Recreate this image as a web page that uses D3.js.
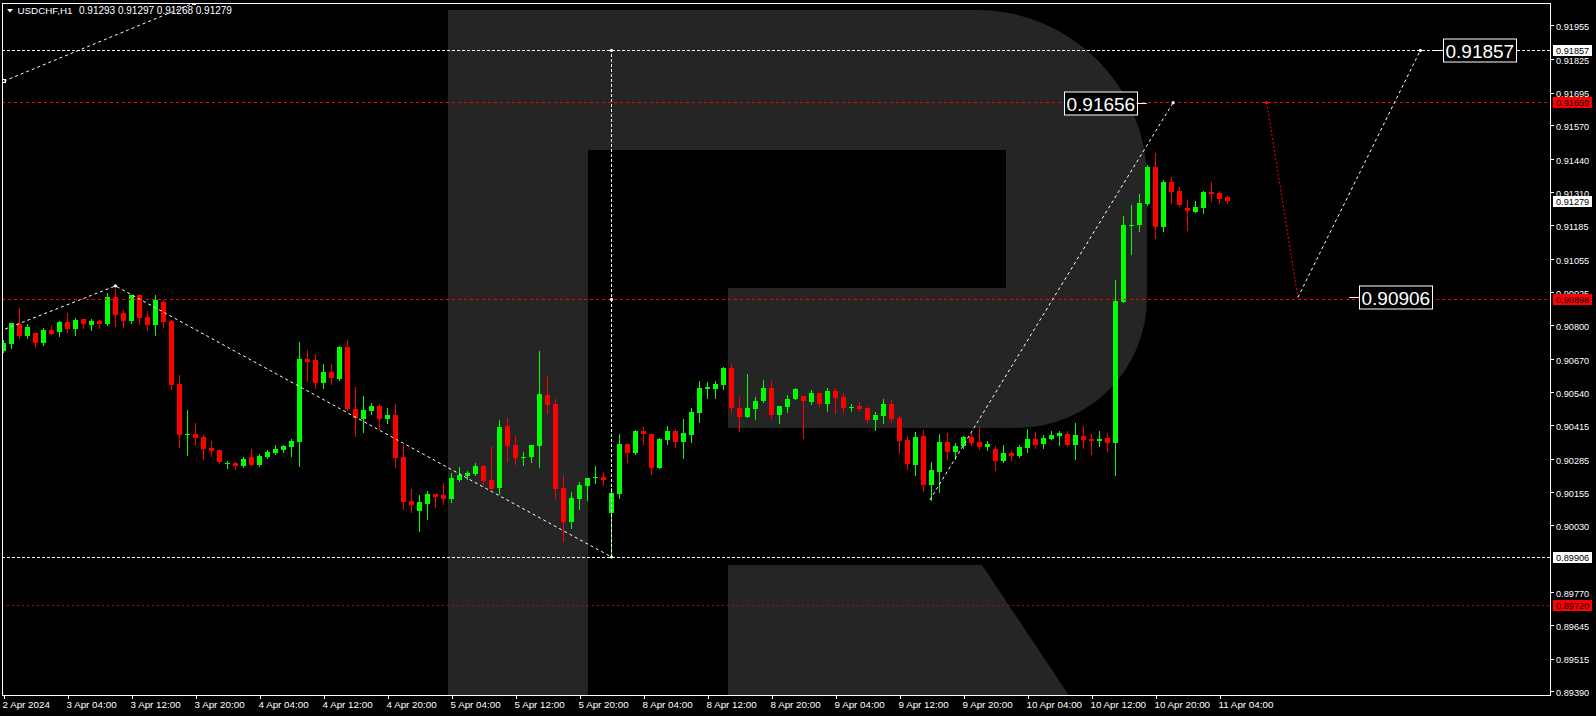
<!DOCTYPE html>
<html><head><meta charset="utf-8">
<script src="https://cdn.jsdelivr.net/npm/d3@7"></script>
<style>html,body{margin:0;padding:0;background:#000;overflow:hidden}</style>
</head><body>
<svg id="chart" width="1596" height="716"></svg>
<script>
// ---------------- data ----------------
const symbol = "USDCHF,H1";
const headerValues = ["0.91293", "0.91297", "0.91268", "0.91279"];

const opens = [0.90700,0.90727,0.90804,0.90757,0.90769,0.90730,0.90781,0.90773,0.90811,0.90784,
0.90823,0.90800,0.90815,0.90804,0.90908,0.90846,0.90815,0.90915,0.90831,0.90800,
0.90888,0.90815,0.90573,0.90378,0.90380,0.90369,0.90326,0.90318,0.90265,0.90268,
0.90257,0.90292,0.90261,0.90292,0.90307,0.90318,0.90330,0.90349,0.90669,0.90665,
0.90577,0.90619,0.90592,0.90715,0.90476,0.90438,0.90469,0.90488,0.90438,0.90453,
0.90292,0.90122,0.90084,0.90111,0.90149,0.90145,0.90130,0.90203,0.90218,0.90226,
0.90257,0.90203,0.90172,0.90411,0.90338,0.90288,0.90292,0.90334,0.90530,0.90496,
0.90172,0.90041,0.90130,0.90180,0.90211,0.90214,0.90076,0.90149,0.90342,0.90307,
0.90392,0.90380,0.90249,0.90357,0.90392,0.90349,0.90376,0.90461,0.90555,0.90553,
0.90569,0.90634,0.90480,0.90446,0.90476,0.90507,0.90557,0.90453,0.90484,0.90515,
0.90527,0.90503,0.90538,0.90496,0.90546,0.90523,0.90480,0.90488,0.90480,0.90434,
0.90449,0.90496,0.90442,0.90357,0.90261,0.90372,0.90184,0.90234,0.90349,0.90311,
0.90334,0.90369,0.90349,0.90330,0.90322,0.90276,0.90307,0.90295,0.90326,0.90361,
0.90342,0.90361,0.90372,0.90380,0.90338,0.90372,0.90361,0.90353,0.90365,0.90345,
0.90888,0.91181,0.91185,0.91266,0.91408,0.91177,0.91350,0.91316,0.91250,0.91235,
0.91250,0.91312,0.91308,0.91293];

const highs = [0.90742,0.90807,0.90865,0.90804,0.90769,0.90788,0.90796,0.90815,0.90846,0.90827,
0.90823,0.90823,0.90819,0.90923,0.90938,0.90858,0.90915,0.90915,0.90854,0.90915,
0.90896,0.90819,0.90607,0.90473,0.90422,0.90376,0.90353,0.90318,0.90276,0.90272,
0.90292,0.90322,0.90303,0.90318,0.90338,0.90338,0.90361,0.90734,0.90704,0.90688,
0.90650,0.90650,0.90719,0.90742,0.90561,0.90527,0.90499,0.90496,0.90480,0.90496,
0.90338,0.90168,0.90145,0.90160,0.90149,0.90191,0.90230,0.90253,0.90238,0.90268,
0.90261,0.90334,0.90434,0.90442,0.90372,0.90311,0.90338,0.90700,0.90603,0.90515,
0.90222,0.90157,0.90195,0.90211,0.90257,0.90234,0.90172,0.90380,0.90342,0.90396,
0.90407,0.90380,0.90365,0.90411,0.90400,0.90438,0.90480,0.90584,0.90580,0.90584,
0.90638,0.90650,0.90523,0.90611,0.90523,0.90588,0.90584,0.90488,0.90530,0.90557,
0.90527,0.90550,0.90538,0.90557,0.90557,0.90538,0.90496,0.90503,0.90484,0.90465,
0.90515,0.90511,0.90449,0.90372,0.90388,0.90396,0.90272,0.90380,0.90384,0.90345,
0.90372,0.90384,0.90407,0.90353,0.90334,0.90338,0.90315,0.90338,0.90400,0.90388,
0.90376,0.90392,0.90392,0.90392,0.90422,0.90411,0.90380,0.90392,0.90384,0.90973,
0.91219,0.91262,0.91304,0.91416,0.91462,0.91358,0.91370,0.91331,0.91281,0.91277,
0.91316,0.91350,0.91316,0.91297];

const lows = [0.90696,0.90711,0.90750,0.90750,0.90715,0.90723,0.90765,0.90757,0.90773,0.90761,
0.90788,0.90781,0.90788,0.90800,0.90796,0.90792,0.90807,0.90804,0.90781,0.90761,
0.90792,0.90553,0.90330,0.90299,0.90338,0.90284,0.90295,0.90268,0.90249,0.90245,
0.90253,0.90261,0.90257,0.90288,0.90303,0.90311,0.90295,0.90257,0.90584,0.90557,
0.90557,0.90573,0.90588,0.90473,0.90372,0.90388,0.90457,0.90400,0.90422,0.90253,
0.90091,0.90080,0.90007,0.90053,0.90099,0.90111,0.90118,0.90199,0.90207,0.90222,
0.90184,0.90168,0.90149,0.90276,0.90265,0.90261,0.90272,0.90253,0.90461,0.90134,
0.89968,0.90018,0.90091,0.90126,0.90191,0.90184,0.89906,0.90134,0.90272,0.90303,
0.90342,0.90226,0.90249,0.90342,0.90330,0.90288,0.90349,0.90426,0.90519,0.90519,
0.90553,0.90465,0.90392,0.90446,0.90438,0.90503,0.90442,0.90422,0.90465,0.90515,
0.90365,0.90496,0.90488,0.90469,0.90461,0.90465,0.90469,0.90473,0.90426,0.90396,
0.90422,0.90426,0.90307,0.90245,0.90222,0.90160,0.90126,0.90157,0.90284,0.90284,
0.90326,0.90338,0.90322,0.90318,0.90241,0.90272,0.90280,0.90292,0.90311,0.90326,
0.90326,0.90361,0.90338,0.90334,0.90284,0.90326,0.90303,0.90334,0.90315,0.90222,
0.90888,0.91073,0.91162,0.91262,0.91135,0.91162,0.91270,0.91258,0.91166,0.91235,
0.91231,0.91277,0.91270,0.91268];

const closes = [0.90730,0.90807,0.90757,0.90792,0.90730,0.90781,0.90765,0.90811,0.90784,0.90819,
0.90804,0.90815,0.90804,0.90908,0.90838,0.90815,0.90915,0.90827,0.90800,0.90896,
0.90811,0.90569,0.90376,0.90380,0.90365,0.90322,0.90315,0.90272,0.90267,0.90257,
0.90284,0.90261,0.90295,0.90311,0.90322,0.90334,0.90353,0.90669,0.90657,0.90577,
0.90619,0.90596,0.90715,0.90476,0.90442,0.90473,0.90488,0.90438,0.90453,0.90288,
0.90118,0.90107,0.90118,0.90149,0.90137,0.90130,0.90211,0.90222,0.90230,0.90257,
0.90199,0.90168,0.90407,0.90334,0.90288,0.90292,0.90338,0.90534,0.90492,0.90168,
0.90041,0.90134,0.90184,0.90211,0.90214,0.90203,0.90153,0.90342,0.90307,0.90392,
0.90380,0.90249,0.90361,0.90392,0.90349,0.90384,0.90465,0.90557,0.90561,0.90573,
0.90634,0.90480,0.90446,0.90480,0.90507,0.90557,0.90453,0.90488,0.90515,0.90553,
0.90507,0.90538,0.90496,0.90546,0.90519,0.90480,0.90484,0.90476,0.90434,0.90453,
0.90496,0.90438,0.90353,0.90265,0.90369,0.90184,0.90241,0.90349,0.90311,0.90334,
0.90369,0.90345,0.90330,0.90342,0.90276,0.90307,0.90295,0.90330,0.90361,0.90338,
0.90365,0.90376,0.90384,0.90338,0.90376,0.90357,0.90353,0.90361,0.90345,0.90892,
0.91185,0.91185,0.91270,0.91408,0.91177,0.91350,0.91312,0.91262,0.91239,0.91254,
0.91312,0.91304,0.91285,0.91279];

const xTickIndex = [0,8,16,24,32,40,48,56,64,72,80,88,96,104,112,120,128,136,144,152];
const xTickLabels = ["2 Apr 2024","3 Apr 04:00","3 Apr 12:00","3 Apr 20:00","4 Apr 04:00","4 Apr 12:00",
"4 Apr 20:00","5 Apr 04:00","5 Apr 12:00","5 Apr 20:00","8 Apr 04:00","8 Apr 12:00","8 Apr 20:00",
"9 Apr 04:00","9 Apr 12:00","9 Apr 20:00","10 Apr 04:00","10 Apr 12:00","10 Apr 20:00","11 Apr 04:00"];

const yTickValues = [0.91955,0.91825,0.91695,0.91570,0.91440,0.91310,0.91185,0.91055,0.90925,0.90800,
0.90670,0.90540,0.90415,0.90285,0.90155,0.90030,0.89770,0.89645,0.89515,0.89390];

// horizontal levels and their kinds
const levelPrices = [0.91857, 0.91659, 0.90898, 0.89906, 0.89720];
const levelKinds  = ["target", "level", "level", "target", "stop"];
// price tags on the right scale
const tagPrices = [0.91857, 0.91659, 0.91279, 0.90898, 0.89906, 0.89720];
const tagKinds  = ["target", "level", "bid", "level", "target", "stop"];

// drawn objects, in (bar index, price)
const trendTop     = [[0.06, 0.91739], [23.8, 0.92040]];
const waveDown     = [[0.2, 0.90784], [14.0, 0.90950], [76, 0.89906]];
const waveVertical = [[76, 0.89906], [76, 0.91857]];
const waveUp       = [[115.8, 0.90126], [146.2, 0.91656]];
const forecastDown = [[157.9, 0.91656], [161.8, 0.90906]];
const forecastUp   = [[161.8, 0.90906], [177.1, 0.91857]];
const targetTexts   = ["0.91656", "0.90906", "0.91857"];
const targetAnchors = [[142.9, 0.91656], [168.2, 0.90906], [178.7, 0.91857]];
const targetSides   = ["left", "right", "right"];

// ---------------- drawing ----------------
const W = 1596, H = 716;
const P = {left: 2, top: 3, right: 1550, bottom: 695};
const FONT = "'Liberation Sans', Arial, sans-serif";
const GREEN = "#00ff00", RED = "#ff0000";

const x = d3.scaleLinear().domain([0, 193]).range([3.5, 3.5 + 8 * 193]);
const y = d3.scaleLinear().domain([0.89390, 0.91955]).range([691, 25]);

const svg = d3.select("#chart");
svg.append("rect").attr("width", W).attr("height", H).attr("fill", "#000");

const defs = svg.append("defs");
defs.append("clipPath").attr("id", "plotclip").append("rect")
  .attr("x", P.left).attr("y", P.top).attr("width", P.right - P.left).attr("height", P.bottom - P.top);

const plot = svg.append("g").attr("clip-path", "url(#plotclip)");

// watermark logo
const wm = plot.append("g").attr("fill", "#252525");
wm.append("path").attr("d",
  "M448,10 L977,10 A170,170 0 0 1 1147,180 L1147,298 A130,130 0 0 1 1017,428 L728,428 L728,288 " +
  "L1006,288 L1006,150 L588,150 L588,700 L448,700 Z");
wm.append("path").attr("d", "M728,565 L982,565 L1072,700 L728,700 Z");

// candles
const N = opens.length;
const cg = plot.append("g").attr("shape-rendering", "crispEdges");
for (let i = 0; i < N; i++) {
  const o = opens[i], h = highs[i], l = lows[i], c = closes[i];
  const col = c >= o ? GREEN : RED;
  const yh = Math.round(y(h)), yl = Math.round(y(l));
  cg.append("rect").attr("x", x(i) - 0.5).attr("y", yh).attr("width", 1)
    .attr("height", Math.max(1, yl - yh + 1)).attr("fill", col);
  const yt = Math.round(y(Math.max(o, c))), yb = Math.round(y(Math.min(o, c)));
  cg.append("rect").attr("x", x(i) - 2.5).attr("y", yt).attr("width", 5)
    .attr("height", Math.max(1, yb - yt)).attr("fill", col);
}

// level lines
const levelStyle = {
  target: {stroke: "#ffffff", dash: "3,2"},
  level:  {stroke: "#ff0000", dash: "3,3"},
  stop:   {stroke: "#d00000", dash: "2,3"}
};
levelPrices.forEach((p, i) => {
  const st = levelStyle[levelKinds[i]];
  const yy = Math.round(y(p)) + 0.5;
  plot.append("line").attr("x1", P.left).attr("x2", P.right).attr("y1", yy).attr("y2", yy)
    .attr("stroke", st.stroke).attr("stroke-width", 1).attr("stroke-dasharray", st.dash);
});

// drawn lines
const line = d3.line().x(d => x(d[0])).y(d => y(d[1]));
function drawLine(pts, color, dash) {
  plot.append("path").attr("d", line(pts)).attr("fill", "none")
    .attr("stroke", color).attr("stroke-width", 1).attr("stroke-dasharray", dash);
}
drawLine(trendTop, "#ffffff", "3,3");
drawLine(waveDown, "#ffffff", "3,3");
drawLine(waveVertical, "#ffffff", "3,2");
drawLine(waveUp, "#ffffff", "3,3");
drawLine(forecastDown, "#ff0000", "2,2");
drawLine(forecastUp, "#ffffff", "3,3");

// end point squares of the top trend line
trendTop.forEach(d => {
  plot.append("rect").attr("x", Math.round(x(d[0])) - 1.5).attr("y", Math.round(y(d[1])) - 1.5)
    .attr("width", 3).attr("height", 3).attr("fill", "none").attr("stroke", "#fff").attr("stroke-width", 1);
});
// small point markers on the wave lines
[waveDown[1], waveDown[2], waveVertical[1], [76, 0.90898], waveUp[1], forecastDown[0], forecastUp[1]].forEach((d, k) => {
  plot.append("circle").attr("cx", x(d[0])).attr("cy", y(d[1])).attr("r", 1.6)
    .attr("fill", k === 5 ? "#ff0000" : "#ffffff");
});

// target labels
targetTexts.forEach((t, i) => {
  const ax = x(targetAnchors[i][0]), ay = Math.round(y(targetAnchors[i][1])) + 0.5;
  const g = svg.append("g");
  const txt = g.append("text").text(t).attr("font-family", FONT).attr("font-size", 19)
    .attr("fill", "#fff").attr("dominant-baseline", "central");
  const bw = txt.node().getComputedTextLength() + 4;
  const bh = 23;
  let bx;
  if (targetSides[i] === "left") {
    g.append("line").attr("x1", ax - 10).attr("x2", ax).attr("y1", ay).attr("y2", ay).attr("stroke", "#fff");
    bx = ax - 10 - bw;
  } else {
    g.append("line").attr("x1", ax).attr("x2", ax + 10).attr("y1", ay).attr("y2", ay).attr("stroke", "#fff");
    bx = ax + 10;
  }
  g.insert("rect", "text").attr("x", Math.round(bx) + 0.5).attr("y", Math.round(ay - bh / 2))
    .attr("width", Math.round(bw)).attr("height", bh).attr("fill", "#000").attr("stroke", "#fff");
  txt.attr("x", Math.round(bx) + 2.5).attr("y", ay + 0.5);
});

// axes
const yAxis = d3.axisRight(y).tickValues(yTickValues).tickFormat(d3.format(".5f"))
  .tickSize(4).tickSizeOuter(0).tickPadding(2);
const ya = svg.append("g").attr("transform", `translate(${P.right},0)`).call(yAxis);
ya.select(".domain").remove();
ya.selectAll("line").attr("stroke", "#fff").attr("shape-rendering", "crispEdges");
ya.selectAll("text").attr("fill", "#fff").attr("font-family", FONT).attr("font-size", 9.2)
  .attr("transform", "translate(0,1.5)");

const xAxis = d3.axisBottom(x).tickValues(xTickIndex).tickFormat((d, i) => xTickLabels[i])
  .tickSize(4).tickSizeOuter(0).tickPadding(2);
const xa = svg.append("g").attr("transform", `translate(0,${P.bottom})`).call(xAxis);
xa.select(".domain").remove();
xa.selectAll("line").attr("stroke", "#fff").attr("shape-rendering", "crispEdges");
xa.selectAll("text").attr("fill", "#fff").attr("font-family", FONT).attr("font-size", 9.8)
  .attr("text-anchor", "start").attr("dx", -1.5);

// price tags
const tagStyle = {
  target: {fill: "#ffffff", text: "#000"},
  bid:    {fill: "#ffffff", text: "#000"},
  level:  {fill: "#ff0000", text: "#000"},
  stop:   {fill: "#ff0000", text: "#000"}
};
tagPrices.forEach((p, i) => {
  const st = tagStyle[tagKinds[i]];
  const yy = Math.round(y(p));
  svg.append("rect").attr("x", P.right + 3).attr("y", yy - 5).attr("width", 39).attr("height", 11)
    .attr("fill", st.fill).attr("shape-rendering", "crispEdges");
  svg.append("text").attr("x", P.right + 6).attr("y", yy + 0.5).attr("dominant-baseline", "central")
    .attr("font-family", FONT).attr("font-size", 9.2).attr("fill", st.text).text(d3.format(".5f")(p));
});

// frame
svg.append("rect").attr("x", P.left + 0.5).attr("y", P.top + 0.5)
  .attr("width", P.right - P.left).attr("height", P.bottom - P.top)
  .attr("fill", "none").attr("stroke", "#fff").attr("stroke-width", 1).attr("shape-rendering", "crispEdges");

// header
svg.append("path").attr("d", "M7,9 L13,9 L10,12.5 Z").attr("fill", "#fff");
svg.append("text").attr("x", 17.5).attr("y", 14).attr("font-family", FONT).attr("font-size", 9.8)
  .attr("fill", "#fff").text(symbol);
svg.append("text").attr("x", 79).attr("y", 14).attr("font-family", FONT).attr("font-size", 10)
  .attr("fill", "#fff").text(headerValues.join(" "));
</script>
</body></html>
